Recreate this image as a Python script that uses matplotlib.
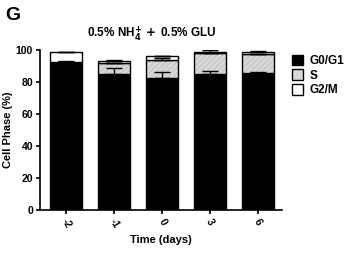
import numpy as np
import matplotlib
matplotlib.use("Agg")
import matplotlib.pyplot as plt
from matplotlib.patches import Patch

plt.rcParams.update({
    'font.family': ['Liberation Sans', 'DejaVu Sans'],
    'font.weight': 'bold',
    'axes.labelweight': 'bold',
    'axes.linewidth': 1.2,
    'hatch.linewidth': 0.6,
})

days = ['-2', '-1', '0', '3', '6']
g0g1 = [92.7, 85.0, 82.6, 85.0, 85.4]
s_phase = [0.0, 6.6, 11.1, 12.9, 11.9]
g2m = [5.8, 1.7, 2.5, 1.0, 1.6]
g0g1_err = [0.3, 3.9, 3.4, 1.8, 0.6]
s_err = [0.0, 0.0, 1.5, 0.0, 0.0]
g2m_err = [0.2, 0.3, 0.3, 1.0, 0.4]

x = np.arange(len(days))
w = 0.67
g0 = np.array(g0g1)
s = np.array(s_phase)
g2 = np.array(g2m)

fig = plt.figure(figsize=(3.5, 2.63), dpi=100)
ax = fig.add_axes([0.114, 0.203, 0.692, 0.607])

ax.bar(x, g0, w, color='black', edgecolor='black', linewidth=1)
# S: light gray with faint hatch, then a black outline on top
ax.bar(x, s, w, bottom=g0, color='#d8d8d8', edgecolor='#bdbdbd', hatch='//////', linewidth=0)
ax.bar(x, s, w, bottom=g0, color='none', edgecolor='black', linewidth=1)
ax.bar(x, g2, w, bottom=g0 + s, color='white', edgecolor='black', linewidth=1)

zeros = np.zeros(len(x))
ax.errorbar(x, g0, yerr=[zeros, g0g1_err], fmt='none', ecolor='black', capsize=6, elinewidth=1, capthick=1)
ax.errorbar(x, g0 + s, yerr=[zeros, s_err], fmt='none', ecolor='black', capsize=6, elinewidth=1, capthick=1)
ax.errorbar(x, g0 + s + g2, yerr=[zeros, g2m_err], fmt='none', ecolor='black', capsize=6, elinewidth=1, capthick=1)

ax.set_xlim(-0.55, 4.5)
ax.set_ylim(0, 100)
ax.set_yticks([0, 20, 40, 60, 80, 100])
ax.set_xticks(x)
ax.set_xticklabels(days, rotation=-60, ha='center', va='top')
ax.tick_params(labelsize=7.5, width=1.2, length=3, pad=2)
for lab in ax.get_xticklabels() + ax.get_yticklabels():
    lab.set_fontweight('bold')
ax.spines['top'].set_visible(False)
ax.spines['right'].set_visible(False)

ax.set_xlabel('Time (days)', fontsize=8, labelpad=4)
ax.set_ylabel('Cell Phase (%)', fontsize=8)
ax.yaxis.set_label_coords(-0.11, 0.5)
ax.set_title(r'0.5% NH$_\mathbf{4}^\mathbf{+}$$\,+\,$0.5% GLU', fontsize=8.5, fontweight='bold', pad=9, x=0.46)

fig.text(0.015, 0.975, 'G', fontsize=14, fontweight='bold', va='top', ha='left')

handles = [Patch(facecolor='black', edgecolor='black'),
           Patch(facecolor='#d8d8d8', edgecolor='black'),
           Patch(facecolor='white', edgecolor='black')]
ax.legend(handles, ['G0/G1', 'S', 'G2/M'], loc='upper left', bbox_to_anchor=(1.02, 1.0),
          frameon=False, fontsize=8.5, handlelength=1.0, handleheight=1.0, handletextpad=0.5,
          labelspacing=0.2, borderaxespad=0)

fig.savefig('out.png', dpi=100)
